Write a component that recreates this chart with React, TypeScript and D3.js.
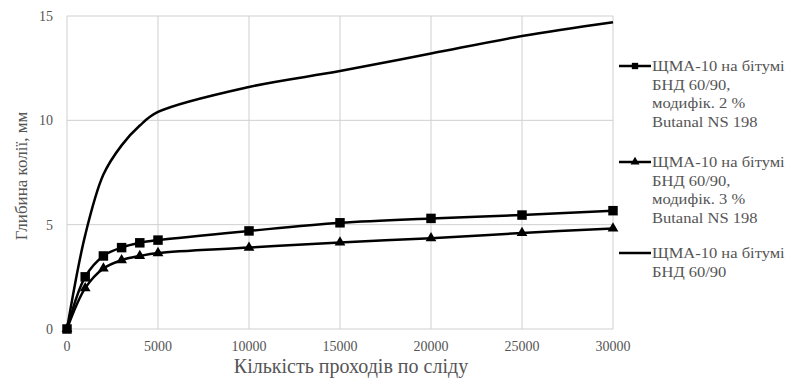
import { useEffect, useRef } from 'react';
import * as d3 from 'd3';

const passes = [0, 1000, 2000, 3000, 4000, 5000, 10000, 15000, 20000, 25000, 30000];
const mod2 = [0, 2.5, 3.5, 3.9, 4.13, 4.26, 4.7, 5.09, 5.3, 5.46, 5.67];
const mod3 = [0, 1.96, 2.9, 3.3, 3.5, 3.64, 3.9, 4.15, 4.35, 4.6, 4.82];
const base = [0, 4.5, 7.4, 8.8, 9.75, 10.4, 11.6, 12.36, 13.2, 14.04, 14.7];

const xTicks = [0, 5000, 10000, 15000, 20000, 25000, 30000];
const yTicks = [0, 5, 10, 15];

const legendItems = [
  { lines: ['ЩМА-10 на бітумі', 'БНД 60/90,', 'модифік. 2 %', 'Butanal NS 198'], marker: 'square' },
  { lines: ['ЩМА-10 на бітумі', 'БНД 60/90,', 'модифік. 3 %', 'Butanal NS 198'], marker: 'triangle' },
  { lines: ['ЩМА-10 на бітумі', 'БНД 60/90'], marker: 'none' },
];
const legendTop = [66, 162, 253];

const font = 'Liberation Serif, Times New Roman, serif';

const App = () => {
  const svgRef = useRef<SVGSVGElement>(null);

  useEffect(() => {
    const svg = d3.select(svgRef.current);
    svg.selectAll('*').remove();

    const x = d3.scaleLinear().domain([0, 30000]).range([67, 613]);
    const y = d3.scaleLinear().domain([0, 15]).range([329, 16]);

    // grid
    const grid = svg.append('g').attr('stroke', '#cfcfcf').attr('stroke-width', 1);
    xTicks.forEach(t => {
      grid.append('line').attr('x1', x(t)).attr('x2', x(t)).attr('y1', y(0)).attr('y2', y(15));
    });
    yTicks.forEach(t => {
      grid.append('line').attr('x1', x(0)).attr('x2', x(30000)).attr('y1', y(t)).attr('y2', y(t));
    });

    // tick labels
    svg.append('g').selectAll('text').data(xTicks).enter().append('text')
      .attr('x', d => x(d)).attr('y', y(0) + 22)
      .attr('text-anchor', 'middle')
      .attr('font-family', font).attr('font-size', 14).attr('fill', '#555')
      .text(d => d);
    svg.append('g').selectAll('text').data(yTicks).enter().append('text')
      .attr('x', 53).attr('y', d => y(d) + 5)
      .attr('text-anchor', 'end')
      .attr('font-family', font).attr('font-size', 14).attr('fill', '#555')
      .text(d => d);

    // axis titles
    svg.append('text')
      .attr('x', 351).attr('y', 373)
      .attr('text-anchor', 'middle')
      .attr('font-family', font).attr('font-size', 20).attr('fill', '#555')
      .text('Кількість проходів по сліду');
    svg.append('text')
      .attr('transform', 'translate(27,176) rotate(-90)')
      .attr('text-anchor', 'middle')
      .attr('font-family', font).attr('font-size', 17).attr('fill', '#555')
      .text('Глибина колії, мм');

    const line = d3.line<number>()
      .x((_, i) => x(passes[i]))
      .y(d => y(d))
      .curve(d3.curveCatmullRom.alpha(0.5));

    [base, mod3, mod2].forEach(s => {
      svg.append('path').datum(s)
        .attr('d', line)
        .attr('fill', 'none')
        .attr('stroke', '#000')
        .attr('stroke-width', 2.5);
    });

    const square = d3.symbol().type(d3.symbolSquare).size(90);
    const tri = d3.symbol().type(d3.symbolTriangle).size(50);
    const squareSmall = d3.symbol().type(d3.symbolSquare).size(40);
    const triSmall = d3.symbol().type(d3.symbolTriangle).size(35);

    svg.append('g').selectAll('path').data(mod2).enter().append('path')
      .attr('d', square)
      .attr('transform', (d, i) => `translate(${x(passes[i])},${y(d)})`)
      .attr('fill', '#000');
    svg.append('g').selectAll('path').data(mod3).enter().append('path')
      .attr('d', tri)
      .attr('transform', (d, i) => `translate(${x(passes[i])},${y(d)})`)
      .attr('fill', '#000');

    // legend
    legendItems.forEach((item, k) => {
      const ly = legendTop[k];
      const g = svg.append('g');
      g.append('line').attr('x1', 619).attr('x2', 651).attr('y1', ly).attr('y2', ly)
        .attr('stroke', '#000').attr('stroke-width', 2.5);
      if (item.marker === 'square') {
        g.append('path').attr('d', squareSmall).attr('transform', `translate(635,${ly})`).attr('fill', '#000');
      } else if (item.marker === 'triangle') {
        g.append('path').attr('d', triSmall).attr('transform', `translate(635,${ly})`).attr('fill', '#000');
      }
      item.lines.forEach((t, j) => {
        g.append('text')
          .attr('transform', `translate(652,${ly + 5 + j * 18.7}) scale(1.18,1)`)
          .attr('font-family', font).attr('font-size', 14).attr('fill', '#555')
          .text(t);
      });
    });
  }, []);

  return (
    <svg ref={svgRef} width={790} height={380}
      style={{ position: 'absolute', left: 0, top: 0, background: '#fff' }} />
  );
};

export default App;
